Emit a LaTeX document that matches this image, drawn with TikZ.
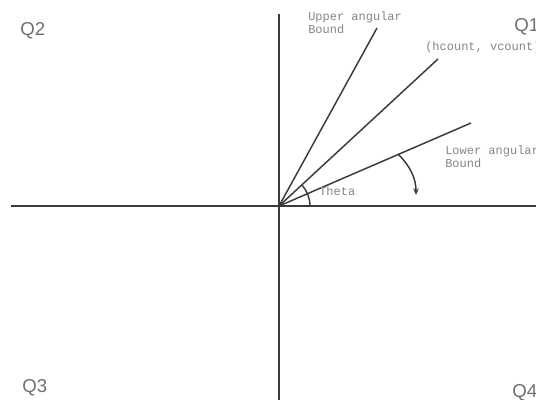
\documentclass[tikz,border=0pt]{standalone}
\usepackage{fontspec}
\setmainfont{Liberation Sans}
\newfontfamily\monofont{Liberation Mono}
\usetikzlibrary{arrows.meta}
\definecolor{linec}{HTML}{3A3A3A}
\definecolor{monoc}{HTML}{858585}
\definecolor{quadc}{HTML}{707070}
\begin{document}
\begin{tikzpicture}[x=0.75pt,y=-0.75pt,
  axis/.style={draw=linec, line width=1.4pt},
  ray/.style={draw=linec, line width=1.1pt},
  monolabel/.style={text=monoc, font=\monofont\fontsize{9}{9.75}\selectfont, inner sep=0pt, align=left},
  quad/.style={text=quadc, font=\fontsize{14}{16}\selectfont, inner sep=0pt, anchor=base west}]
\useasboundingbox (0,0) rectangle (536,400);
\clip (0,0) rectangle (536,400);
% axes
\coordinate (O) at (279,206);
\coordinate (top) at (279,14);
\coordinate (bot) at (279,401);
\coordinate (left) at (11,206);
\coordinate (right) at (537,206);
\draw[axis] (top) -- (bot);
\draw[axis] (left) -- (right);
% rays
\coordinate (upper) at (377,28);
\coordinate (mid) at (438,59);
\coordinate (lower) at (471,123);
\draw[ray] (O) -- (upper);
\draw[ray] (O) -- (mid);
\draw[ray] (O) -- (lower);
% theta arc
\coordinate (ta) at (310,206);
\draw[ray] (ta) arc[start angle=0, end angle=-43, radius=31];
% lower bound arrow
\coordinate (la) at (398,154);
\coordinate (lb) at (416,195);
\draw[ray, -{Stealth[length=5pt,width=4pt]}] (la) .. controls (410,166) and (416,178) .. (lb);
% labels
\node[monolabel, anchor=base west] (tup) at (308,33) {Upper angular\\Bound};
\node[monolabel, anchor=base west] (tmid) at (425,50) {(hcount, vcount)};
\node[monolabel, anchor=base west] (tlow) at (445,167) {Lower angular\\Bound};
\node[monolabel, anchor=base west] (ttheta) at (319,195) {Theta};
\node[quad] (q1) at (514,31) {Q1};
\node[quad] (q2) at (20,35) {Q2};
\node[quad] (q3) at (22,392) {Q3};
\node[quad] (q4) at (512,397) {Q4};
\end{tikzpicture}
\end{document}
